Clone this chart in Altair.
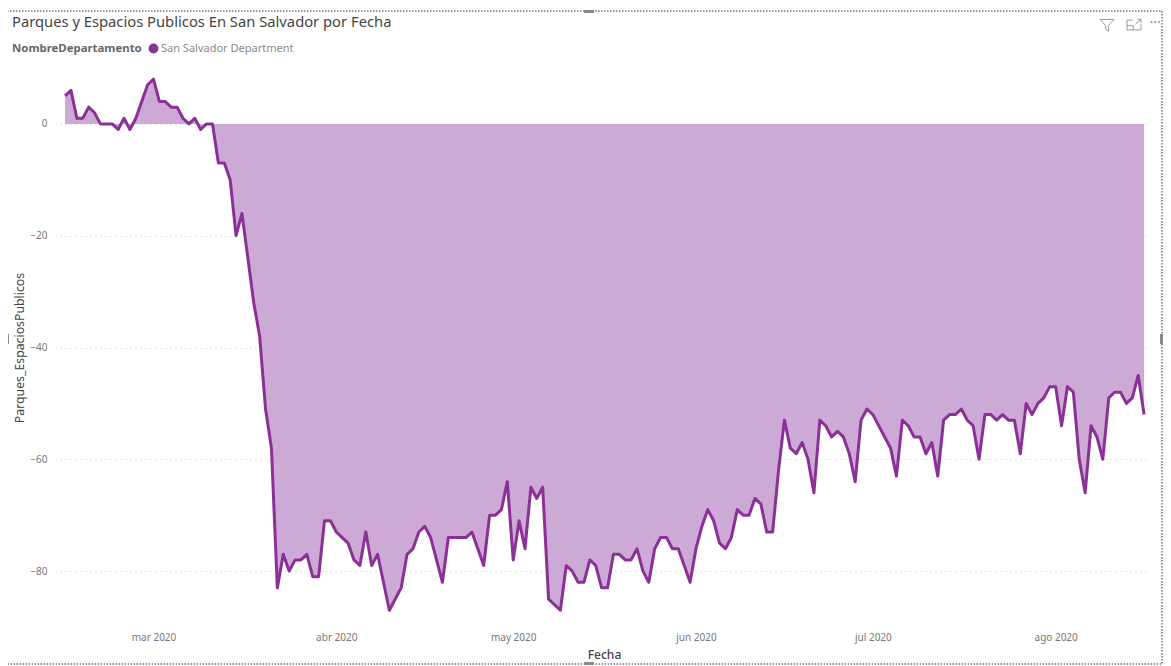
import altair as alt
import pandas as pd

TITLE = "Parques y Espacios Publicos En San Salvador por Fecha"
SERIES = "San Salvador Department"
START = "2020-02-15"

# daily values, Feb 15 .. Aug 16 2020
feb = [5, 6, 1, 1, 3, 2, 0, 0, 0, -1, 1, -1, 1, 4, 7]
mar = [8, 4, 4, 3, 3, 1, 0, 1, -1, 0, 0, -7, -7, -10, -20, -16, -24, -32, -38, -51, -58,
       -83, -77, -80, -78, -78, -77, -81, -81, -71, -71]
abr = [-73, -74, -75, -78, -79, -73, -79, -77, -82, -87, -85, -83, -77, -76, -73, -72,
       -74, -78, -82, -74, -74, -74, -74, -73, -76, -79, -70, -70, -69, -64]
may = [-78, -71, -76, -65, -67, -65, -85, -86, -87, -79, -80, -82, -82, -78, -79, -83,
       -83, -77, -77, -78, -78, -76, -80, -82, -76, -74, -74, -76, -76, -79, -82]
jun = [-76, -72, -69, -71, -75, -76, -74, -69, -70, -70, -67, -68, -73, -73, -62, -53,
       -58, -59, -57, -60, -66, -53, -54, -56, -55, -56, -59, -64, -53, -51]
jul = [-52, -54, -56, -58, -63, -53, -54, -56, -56, -59, -57, -63, -53, -52, -52, -51,
       -53, -54, -60, -52, -52, -53, -52, -53, -53, -59, -50, -52, -50, -49, -47]
ago = [-47, -54, -47, -48, -60, -66, -54, -56, -60, -49, -48, -48, -50, -49, -45, -52]
values = feb + mar + abr + may + jun + jul + ago
y_ticks = [-80, -60, -40, -20, 0]

df = pd.DataFrame({
    "Fecha": pd.date_range(START, periods=len(values), freq="D").strftime("%Y-%m-%dT00:00:00Z"),
    "Parques_EspaciosPublicos": values,
    "NombreDepartamento": SERIES,
})

LEFT, TOP, W, H = 55, 68, 1095, 559
LINE = "#8B3096"
FILL = "#CDAAD6"
FONT = "Noto Sans"

x = alt.X(
    "Fecha:T",
    title="Fecha",
    scale=alt.Scale(type="utc", domain=["2020-02-13T07:00:00Z", "2020-08-17T00:00:00Z"]),
    axis=alt.Axis(
        tickCount=alt.TimeIntervalStep(interval="month", step=1),
        labelExpr="['ene','feb','mar','abr','may','jun','jul','ago'][utcmonth(datum.value)] + ' ' + utcyear(datum.value)",
        grid=False, domain=False, ticks=False, labelPadding=5, labelFontSize=10, labelColor="#777777",
        labelFont=FONT, titleFont=FONT, titleFontSize=12, titleFontWeight=500, titleColor="#444444",
        titleY=22, titleX=549,
    ),
)
y = alt.Y(
    "Parques_EspaciosPublicos:Q",
    title="Parques_EspaciosPublicos",
    scale=alt.Scale(domain=[-90, 10], nice=False),
    axis=alt.Axis(
        values=y_ticks, grid=True, gridDash=[1, 4], gridColor="#cfcfcf", domain=False, ticks=False,
        labelPadding=8, labelFontSize=10, labelColor="#777777", labelFont=FONT,
        titleFont=FONT, titleFontSize=12.3, titleFontWeight="normal", titleColor="#444444", titleX=-29,
    ),
)

area = alt.Chart(df).mark_area(color=FILL, opacity=1).encode(x=x, y=y, y2=alt.datum(0))
line = alt.Chart(df).mark_line(strokeWidth=3, strokeJoin="round").encode(
    x=x, y=y,
    color=alt.Color(
        "NombreDepartamento:N",
        scale=alt.Scale(domain=[SERIES], range=[LINE]),
        legend=alt.Legend(
            orient="none", legendX=12 - LEFT, legendY=43 - TOP, direction="horizontal", titleOrient="left",
            title="NombreDepartamento", titleFont=FONT, titleFontSize=11.4, titleFontWeight="bold",
            titleColor="#666666", labelFont=FONT, labelFontSize=11, labelColor="#888888",
            symbolType="circle", symbolSize=70, symbolFillColor=LINE, symbolStrokeColor=LINE,
            titlePadding=6, labelOffset=2,
        ),
    ),
)


def px(v, o):
    return alt.value(v - o)


def handle(x0, x1, y0, y1):
    return alt.Chart(df.head(1)).mark_rect(color="#8a8a8a").encode(
        x=px(x0, LEFT), x2=px(x1, LEFT), y=px(y0, TOP), y2=px(y1, TOP)
    )


border = alt.Chart(df.head(1)).mark_rect(fill=None, stroke="#777777", strokeWidth=1.5, strokeDash=[1.5, 1.5]).encode(
    x=px(7, LEFT), x2=px(1162, LEFT), y=px(11, TOP), y2=px(664, TOP)
)
funnel = alt.Chart(df.head(1)).mark_point(
    shape="M-1,-0.8 L1,-0.8 L0.2,0.1 L0.2,0.9 L-0.2,0.6 L-0.2,0.1 Z",
    size=196, filled=False, color="#999999", strokeWidth=1, opacity=1,
).encode(x=px(1107, LEFT), y=px(25, TOP))
expand = alt.Chart(df.head(1)).mark_point(
    shape="M-0.2,-0.7 L-1,-0.7 L-1,0.7 L1,0.7 L1,-0.1 M-1,0.1 L-0.1,0.1 L-0.1,0.7 M0.2,-0.1 L1,-0.8 M0.5,-0.8 L1,-0.8 L1,-0.3",
    size=196, filled=False, color="#999999", strokeWidth=1, opacity=1,
).encode(x=px(1134, LEFT), y=px(25, TOP))
dots = alt.Chart(df.head(1)).mark_text(text="···", fontSize=14, color="#888888", font=FONT).encode(
    x=px(1155, LEFT), y=px(23, TOP)
)

chart = (
    alt.layer(
        area, line, border, funnel, expand, dots,
        handle(584, 594, 10, 13), handle(584, 594, 662, 665),
        handle(6, 9, 334, 344), handle(1160, 1163, 334, 344),
    )
    .properties(
        width=W,
        height=H,
        autosize=alt.AutoSizeParams(type="none"),
        padding={"left": LEFT - 8, "top": TOP - 8, "right": 13, "bottom": 38},
        title=alt.TitleParams(
            TITLE, anchor="start", frame="group", dx=12 - LEFT, offset=-20, font=FONT, fontSize=14.75,
            fontWeight="normal", color="#444444",
        ),
    )
    .configure_view(stroke=None)
)

chart.save("out.html", embed_options={"renderer": "svg", "actions": False})
